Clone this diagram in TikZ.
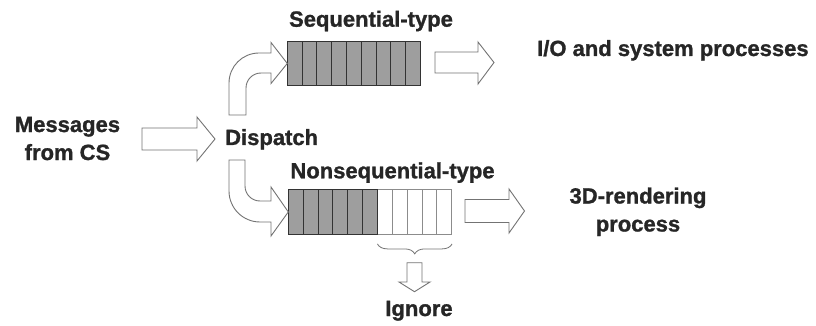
\documentclass[tikz,border=0pt]{standalone}
\usepackage{fontspec}
\setmainfont[BoldFeatures={FakeBold=1.2}]{Liberation Sans}
\usetikzlibrary{decorations.pathreplacing,calc}

\tikzset{
  lbl/.style={font=\bfseries\fontsize{22}{28}\selectfont, text=black!85, inner sep=0pt, align=center},
  fat/.style={draw=black!55, line width=0.9pt, fill=white, line join=miter},
  cellfull/.style={draw=black!80, line width=0.9pt, fill=black!38},
  cellempty/.style={draw=black!45, line width=0.8pt, fill=white},
  queue/.style={draw=none, inner sep=0pt, minimum height=44.5pt, anchor=north west},
  bracket/.style={draw=black!55, line width=0.8pt, decorate,
    decoration={brace, mirror, amplitude=10pt}},
}

\begin{document}
\begin{tikzpicture}[x=1pt,y=-1pt]
\useasboundingbox (0,0) rectangle (816,326);

% ---- labels (base anchor sits on the last line) ----
\node[lbl, anchor=base] (msg) at (67.5,160) {Messages\\from CS};
\node[lbl, anchor=base west] (disp) at (225,145) {Dispatch};
\node[lbl, anchor=base] (seqlbl) at (371,26.7) {Sequential-type};
\node[lbl, anchor=base] (nseqlbl) at (392.5,178.3) {Nonsequential-type};
\node[lbl, anchor=base west] (io) at (537,56) {I/O and system processes};
\node[lbl, anchor=base] (render) at (638,231.5) {3D-rendering\\process};
\node[lbl, anchor=base] (ign) at (419,316) {Ignore};

% ---- queues ----
\def\cw{14.78}
\node[queue, minimum width=133pt] (seq) at (287.3,41) {};
\foreach \i in {0,...,8}
  \draw[cellfull] ($(seq.north west)+(\i*\cw,0)$) rectangle +(\cw,44.5);

\node[queue, minimum width=163.4pt] (nseq) at (288.3,189.5) {};
\foreach \i in {6,...,10}
  \draw[cellempty] ($(nseq.north west)+(\i*14.85,0)$) rectangle +(14.85,44.5);
\foreach \i in {0,...,5}
  \draw[cellfull] ($(nseq.north west)+(\i*14.85,0)$) rectangle +(14.85,44.5);
\coordinate (ignL) at ($(nseq.south west)+(6*14.85,9.5)$);
\coordinate (ignR) at ($(nseq.south east)+(0,9.5)$);

% ---- block arrows ----
% input into the dispatcher
\draw[fat] (142,128) -- (197,128) -- (197,117) -- (215,139) -- (197,161)
  -- (197,150) -- (142,150) -- cycle;
% dispatcher to the sequential queue
\draw[fat] (229,115) -- (229,83) .. controls (229,66.4) and (242.4,53) .. (259,53)
  -- (271,53) -- (271,42.5) -- (seq.west) -- (271,83.5) -- (271,73) -- (261,73)
  .. controls (252.7,73) and (246,79.7) .. (246,88) -- (246,115) -- cycle;
% dispatcher to the nonsequential queue
\draw[fat] (229,160) -- (229,191) .. controls (229,208.1) and (242.9,222) .. (260,222)
  -- (271,222) -- (271,236) -- (nseq.west) -- (271,187) -- (271,201) -- (260,201)
  .. controls (251.7,201) and (245,194.3) .. (245,186) -- (245,160) -- cycle;
% sequential queue to I/O
\draw[fat] (435,52) -- (478,52) -- (478,42) -- (494,62.5) -- (478,84)
  -- (478,73) -- (435,73) -- cycle;
% nonsequential queue to rendering
\draw[fat] (465,199.5) -- (509,199.5) -- (509,189) -- (524.5,211) -- (509,233)
  -- (509,222.5) -- (465,222.5) -- cycle;
% surplus messages dropped
\draw[fat] (407,262.7) -- (422,262.7) -- (422,282) -- (430,282) -- (414.5,291.7)
  -- (399,282) -- (407,282) -- cycle;

% brace over the discarded cells
\draw[bracket] (ignL) -- (ignR);
\end{tikzpicture}
\end{document}
